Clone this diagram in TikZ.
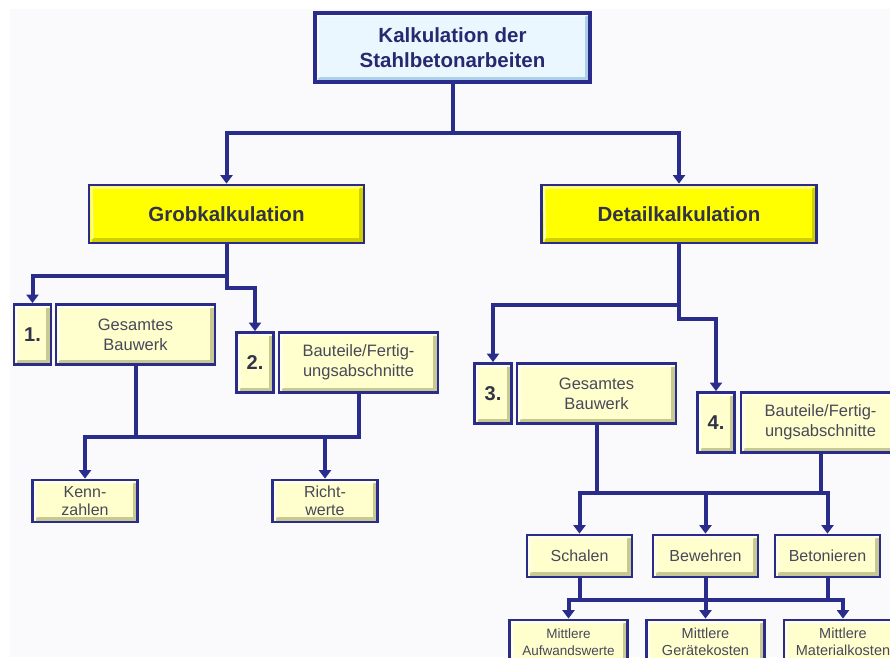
\documentclass[tikz,border=0pt]{standalone}
\usepackage{fontspec}
\setmainfont{Liberation Sans}
\usetikzlibrary{arrows.meta}

\definecolor{navy}{RGB}{42,44,140}
\definecolor{paper}{RGB}{250,250,252}
\definecolor{paleYellow}{RGB}{255,255,206}
\definecolor{paleEdge}{RGB}{200,200,146}
\definecolor{mainYellow}{RGB}{255,255,0}
\definecolor{mainEdge}{RGB}{208,208,0}
\definecolor{iceBlue}{RGB}{234,247,254}
\definecolor{iceEdge}{RGB}{170,208,234}
\definecolor{ink}{RGB}{72,72,88}
\definecolor{darkInk}{RGB}{50,50,72}
\definecolor{titleInk}{RGB}{40,40,112}

\tikzset{
  link/.style={draw=navy, line width=4pt},
  arrow/.style={link, -{Triangle[length=8.5pt,width=12pt]}},
  % raised look: dark edge right/bottom, light edge left/top
  bevel/.style={path picture={
      \draw[#1, line width=3.5pt]
        ([shift={(-3pt,-3pt)}]path picture bounding box.north east)
        -- ([shift={(-3pt,3pt)}]path picture bounding box.south east)
        -- ([shift={(3pt,3pt)}]path picture bounding box.south west);
      \draw[white, line width=2pt, opacity=.7]
        ([shift={(3.5pt,4pt)}]path picture bounding box.south west)
        -- ([shift={(2.5pt,-2.5pt)}]path picture bounding box.north west)
        -- ([shift={(-4pt,-2.5pt)}]path picture bounding box.north east);
  }},
  box/.style={draw=navy, line width=2.8pt, inner sep=0pt, align=center, text=ink},
  titlebox/.style={box, line width=3.8pt, fill=iceBlue, bevel=iceEdge, text=titleInk,
    minimum width=275pt, minimum height=69pt,
    font=\fontsize{20.5}{24.5}\selectfont\bfseries},
  mainbox/.style={box, fill=mainYellow, bevel=mainEdge, text=darkInk,
    minimum width=275pt, minimum height=58pt,
    font=\fontsize{20.5}{24}\selectfont\bfseries},
  nrbox/.style={box, fill=paleYellow, bevel=paleEdge, text=darkInk,
    minimum width=37pt, minimum height=60pt,
    font=\fontsize{20}{24}\selectfont\bfseries},
  partbox/.style={box, fill=paleYellow, bevel=paleEdge,
    minimum width=159pt, minimum height=60pt,
    font=\fontsize{16.5}{20}\selectfont},
  leafbox/.style={box, fill=paleYellow, bevel=paleEdge,
    minimum width=105pt, minimum height=42pt,
    font=\fontsize{16}{18}\selectfont},
  costbox/.style={box, fill=paleYellow, bevel=paleEdge,
    minimum width=118pt, minimum height=44pt,
    font=\fontsize{14.5}{17}\selectfont},
}

\begin{document}
\begin{tikzpicture}[x=1pt,y=-1pt]
  \useasboundingbox (0,0) rectangle (890,657);
  \fill[paper] (10,9) rectangle (890,657);

  % levels of the tree
  \node[titlebox] (top) at (452.5,47.5) {Kalkulation der\\Stahlbetonarbeiten};

  \node[mainbox] (grob)   at (226.5,214) {Grobkalkulation};
  \node[mainbox] (detail) at (679,214)   {Detailkalkulation};

  \node[nrbox]   (nrOne)   at (32.5,334.5)  {1.};
  \node[partbox] (gesA)    at (135.5,334.5) {Gesamtes\\Bauwerk};
  \node[nrbox]   (nrTwo)   at (255,362.5)   {2.};
  \node[partbox] (bauA)    at (358.5,362.5) {Bauteile/Fertig-\\ungsabschnitte};
  \node[nrbox]   (nrThree) at (493,393.5)   {3.};
  \node[partbox] (gesB)    at (596.5,393.5) {Gesamtes\\Bauwerk};
  \node[nrbox]   (nrFour)  at (716,422.5)   {4.};
  \node[partbox] (bauB)    at (820.5,422.5) {Bauteile/Fertig-\\ungsabschnitte};

  \node[leafbox] (kenn)  at (85,501)  {Kenn-\\zahlen};
  \node[leafbox] (richt) at (325,501) {Richt-\\werte};

  \node[leafbox] (schalen)    at (579.5,556) {Schalen};
  \node[leafbox] (bewehren)   at (705.5,556) {Bewehren};
  \node[leafbox] (betonieren) at (827.5,556) {Betonieren};

  \node[costbox, font=\fontsize{13.5}{17}\selectfont] (aufwand) at (568.5,642) {Mittlere\\Aufwandswerte};
  \node[costbox] (geraete)  at (705.5,642) {Mittlere\\Gerätekosten};
  \node[costbox] (material) at (843,642)   {Mittlere\\Materialkosten};

  % heights of the horizontal bars
  \coordinate (barTop)    at (0,133);
  \coordinate (barGrobA)  at (0,276);
  \coordinate (barGrobB)  at (0,288);
  \coordinate (barDetA)   at (0,305);
  \coordinate (barDetB)   at (0,319);
  \coordinate (barLeft)   at (0,437);
  \coordinate (barRight)  at (0,493);
  \coordinate (barBottom) at (0,600);

  % connectors
  \draw[arrow] (top.south) -- (top.south |- barTop) -| (grob.north);
  \draw[arrow] (top.south |- barTop) -| (detail.north);

  \draw[arrow] (grob.south) -- (grob.south |- barGrobA) -| (nrOne.north);
  \draw[arrow] (grob.south |- barGrobA) -- (grob.south |- barGrobB) -| (nrTwo.north);

  \draw[arrow] (detail.south) -- (detail.south |- barDetA) -| (nrThree.north);
  \draw[arrow] (detail.south |- barDetA) -- (detail.south |- barDetB) -| (nrFour.north);

  \draw[arrow] (bauA.south) |- (kenn.north |- barLeft) -- (kenn.north);
  \draw[link]  (gesA.south) -- (gesA.south |- barLeft);
  \draw[arrow] (richt.north |- barLeft) -- (richt.north);

  \draw[arrow] (gesB.south) |- (betonieren.north |- barRight) -- (betonieren.north);
  \draw[arrow] (gesB.south |- barRight) -| (schalen.north);
  \draw[link]  (bauB.south) -- (bauB.south |- barRight);
  \draw[arrow] (bewehren.north |- barRight) -- (bewehren.north);

  \draw[arrow] (schalen.south) |- (material.north |- barBottom) -- (material.north);
  \draw[arrow] (schalen.south |- barBottom) -| (aufwand.north);
  \draw[link]  (bewehren.south) -- (bewehren.south |- barBottom);
  \draw[link]  (betonieren.south) -- (betonieren.south |- barBottom);
  \draw[arrow] (geraete.north |- barBottom) -- (geraete.north);
\end{tikzpicture}
\end{document}
